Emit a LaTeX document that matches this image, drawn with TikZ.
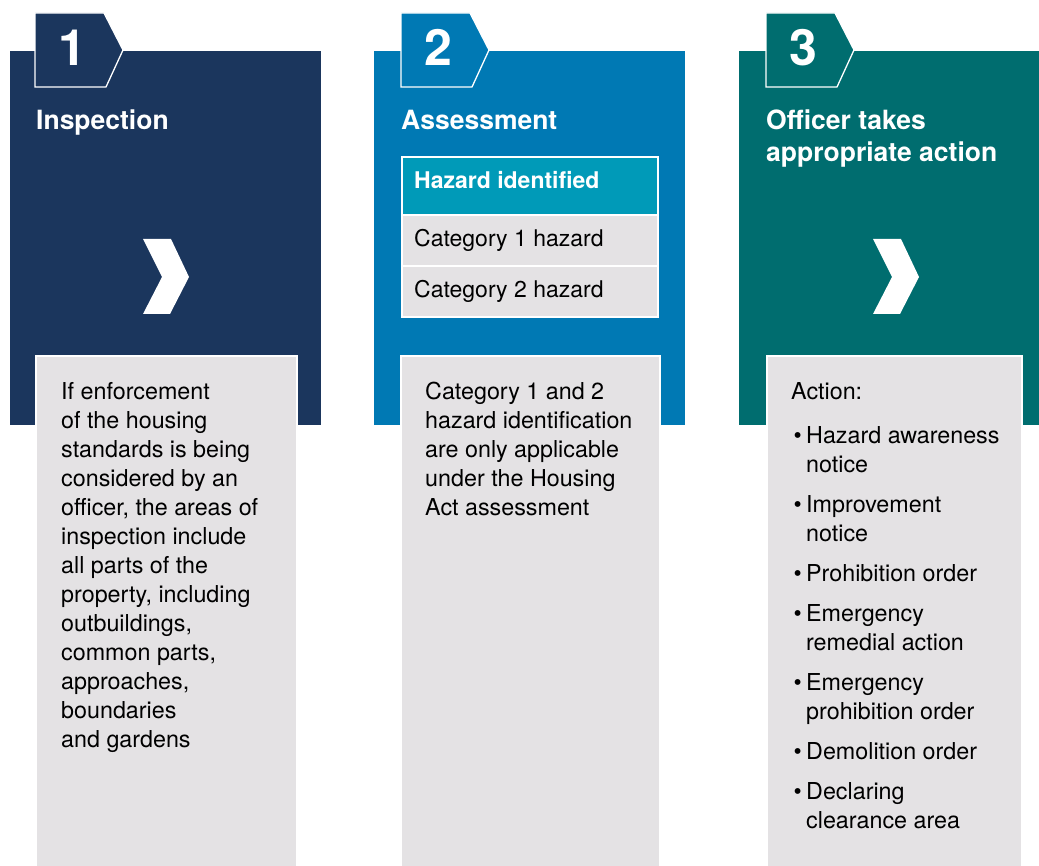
\documentclass[tikz,border=0pt]{standalone}
\usepackage{fontspec}
\setmainfont{TeX Gyre Heros}
\definecolor{navy}{HTML}{1B365D}
\definecolor{midblue}{HTML}{0079B4}
\definecolor{darkteal}{HTML}{006D6F}
\definecolor{hazardblue}{HTML}{009AB8}
\definecolor{boxgray}{HTML}{E4E2E4}
\tikzset{
  panel/.style={draw=none, inner sep=0pt, outer sep=0pt, anchor=north west},
  tabshape/.style={draw=white, line width=1.3pt, line join=miter},
  numtext/.style={text=white, font=\bfseries\fontsize{50}{50}\selectfont, anchor=base, inner sep=0pt},
  titletext/.style={text=white, font=\bfseries\fontsize{26.5}{32}\selectfont, anchor=base west, inner sep=0pt, align=left},
  chev/.style={fill=white, draw=none},
  graybox/.style={fill=boxgray, draw=white, line width=1.5pt},
  bodytext/.style={text=black, font=\fontsize{23.3}{29}\selectfont, anchor=base west, inner sep=0pt, align=left},
  rowbox/.style={draw=white, line width=2.4pt, anchor=north west, inner sep=0pt, minimum width=256pt, minimum height=51pt},
  rowtext/.style={font=\fontsize{23}{28}\selectfont, anchor=base west, inner sep=0pt}
}
\newcommand{\bul}{\makebox[15pt][l]{\hspace*{2.5pt}•}}
\newcommand{\ind}{\hspace*{15pt}}
\begin{document}
\begin{tikzpicture}[x=1pt, y=-1pt]
\useasboundingbox (0,0) rectangle (1039,866);
\fill[white] (0,0) rectangle (1039,866);

% Panels
\node[panel, fill=navy, minimum width=311pt, minimum height=374pt] (p1) at (10,51) {};
\node[panel, fill=midblue, minimum width=311pt, minimum height=374pt] (p2) at (374,51) {};
\node[panel, fill=darkteal, minimum width=300pt, minimum height=374pt] (p3) at (739,51) {};

% Tabs
\draw[tabshape, fill=navy] (35,13) -- (104,13) -- (123,50) -- (106,87) -- (35,87) -- cycle;
\draw[tabshape, fill=midblue] (401,13) -- (470,13) -- (489,50) -- (472,87) -- (401,87) -- cycle;
\draw[tabshape, fill=darkteal] (766,13) -- (835,13) -- (854,50) -- (837,87) -- (766,87) -- cycle;
\node[numtext] (n1) at (72,66) {1};
\node[numtext] (n2) at (438,66) {2};
\node[numtext] (n3) at (803,66) {3};

% Titles (anchor = baseline of last line)
\node[titletext] (t1) at (36,130) {Inspection};
\node[titletext] (t2) at (401,130) {Assessment};
\node[titletext] (t3) at (766,162) {Officer takes\\appropriate action};

% Chevrons
\fill[chev] (143,239) -- (171,239) -- (189,277) -- (170,314) -- (143,314) -- (162,277) -- cycle;
\fill[chev] (873,239) -- (901,239) -- (919,277) -- (900,314) -- (873,314) -- (892,277) -- cycle;

% Table in panel 2
\node[rowbox, fill=hazardblue, minimum height=58pt] (r0) at (401,156) {};
\node[rowbox, fill=boxgray] (r1) at (401,214) {};
\node[rowbox, fill=boxgray] (r2) at (401,265) {};
\node[rowtext, text=white, font=\bfseries\fontsize{23}{28}\selectfont] (r0t) at (414,189) {Hazard identified};
\node[rowtext] (r1t) at (414,247) {Category 1 hazard};
\node[rowtext] (r2t) at (414,298) {Category 2 hazard};

% Gray boxes
\draw[graybox] (36,356) rectangle (297,872);
\draw[graybox] (401,356) rectangle (660,872);
\draw[graybox] (767,356) rectangle (1022,872);

% Texts (anchor = baseline of last line)
\node[bodytext] (b1) at (61,747) {If enforcement\\of the housing\\standards is being\\considered by an\\officer, the areas of\\inspection include\\all parts of the\\property, including\\outbuildings,\\common parts,\\approaches,\\boundaries\\and gardens};
\node[bodytext] (b2) at (425,515) {Category 1 and 2\\hazard identification\\are only applicable\\under the Housing\\Act assessment};
\node[bodytext] (b3) at (791,828) {Action:\\[15pt]
\bul Hazard awareness\\\ind notice\\[11pt]
\bul Improvement\\\ind notice\\[11pt]
\bul Prohibition order\\[11pt]
\bul Emergency\\\ind remedial action\\[11pt]
\bul Emergency\\\ind prohibition order\\[11pt]
\bul Demolition order\\[11pt]
\bul Declaring\\\ind clearance area};
\end{tikzpicture}
\end{document}
